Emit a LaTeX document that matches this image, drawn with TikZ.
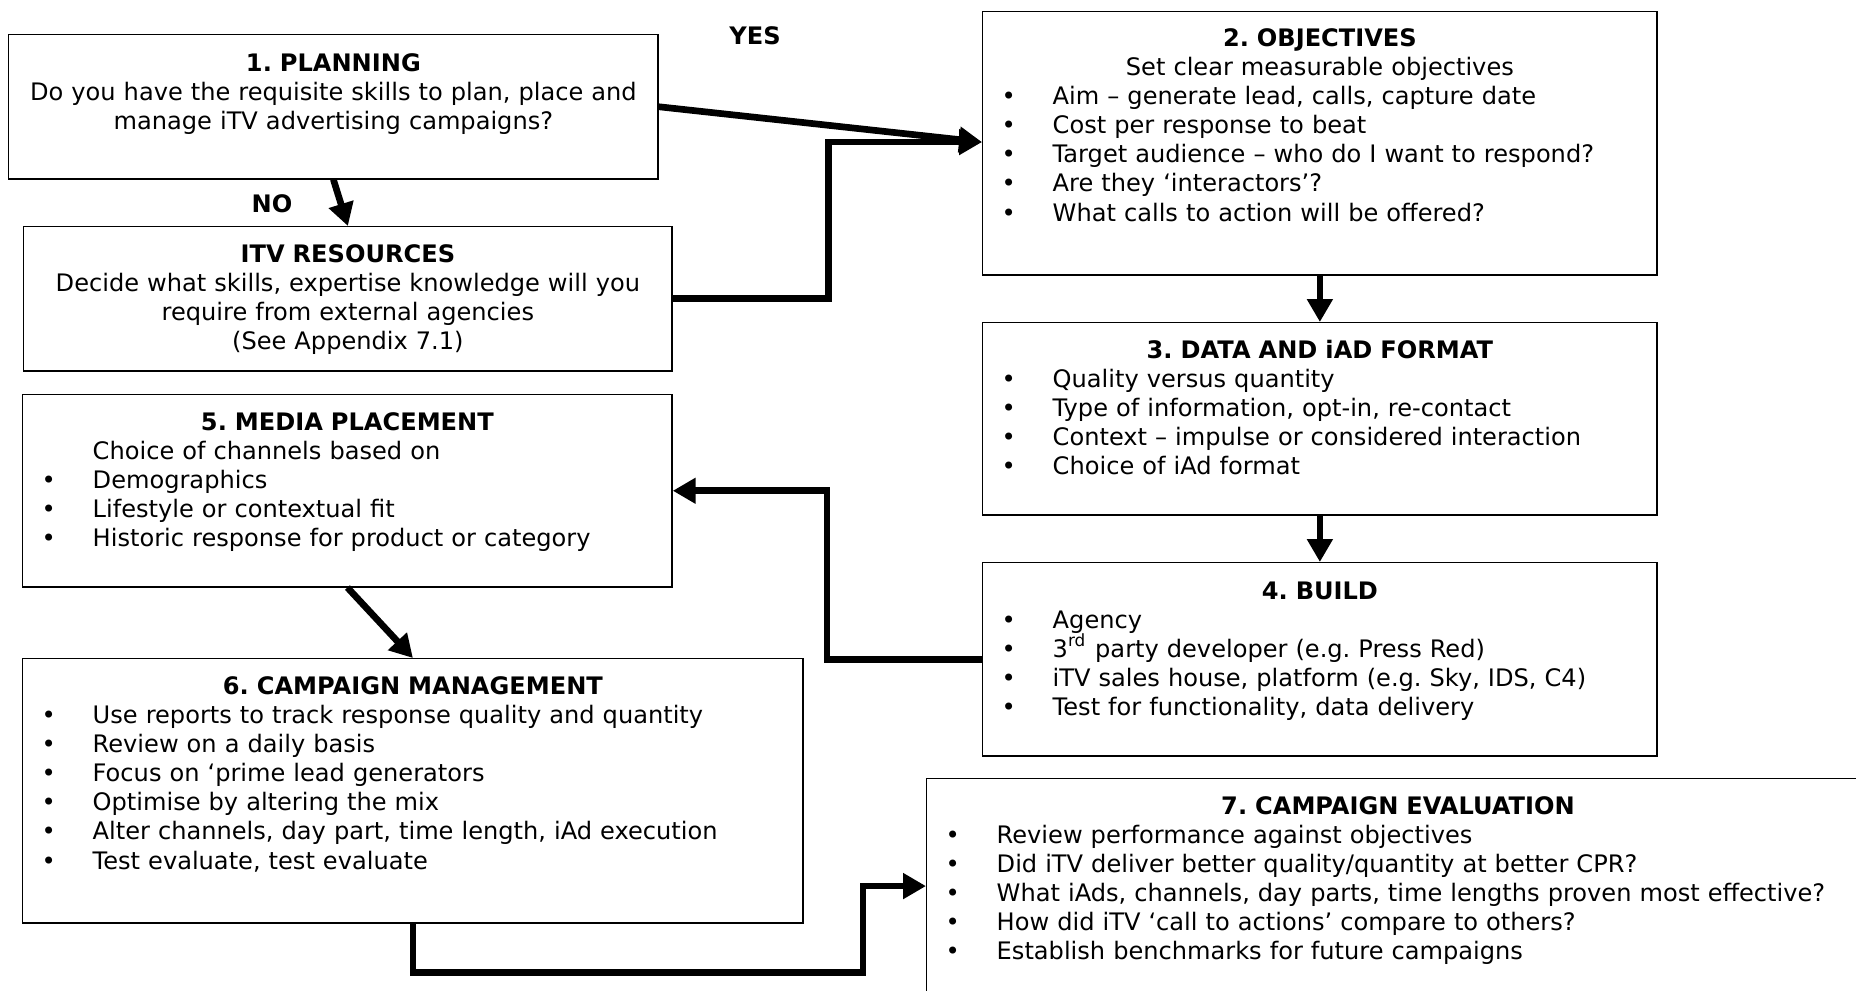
\documentclass[tikz,border=0pt]{standalone}
\usepackage{fontspec}
\setmainfont{DejaVu Sans}
\usetikzlibrary{arrows.meta}
\frenchspacing
\newcommand\boxhead[1]{\makebox[\linewidth]{\bfseries #1}}
\newcommand\boxline[1]{\makebox[\linewidth]{#1}}
\newcommand\itm[1]{\hspace*{0.19cm}\makebox[0.51cm][l]{\textbullet}#1}
\begin{document}
\begin{tikzpicture}[x=0.01cm,y=-0.01cm,
  font=\fontsize{6.85}{8.3}\selectfont,
  box/.style={draw,inner sep=0,anchor=north west},
  txt/.style={inner sep=0,anchor=base west,align=left},
  flow/.style={line width=1.9pt,-{Triangle[length=6.5pt,width=7pt]}}]
  \useasboundingbox (0,0) rectangle (1856,990);
  % boxes
  \node[box,minimum width=6.49cm,minimum height=1.44cm] (plan) at (8,34) {};
  \node[box,minimum width=6.48cm,minimum height=1.44cm] (itv) at (23,226) {};
  \node[box,minimum width=6.74cm,minimum height=2.63cm] (obj) at (982,11) {};
  \node[box,minimum width=6.74cm,minimum height=1.92cm] (data) at (982,322) {};
  \node[box,minimum width=6.74cm,minimum height=1.93cm] (build) at (982,562) {};
  \node[box,minimum width=6.49cm,minimum height=1.92cm] (media) at (22,394) {};
  \node[box,minimum width=7.80cm,minimum height=2.64cm] (cm) at (22,658) {};
  \node[box,minimum width=9.42cm,minimum height=2.50cm] (eval) at (926,778) {};
  % texts
  \node[txt,text width=6.49cm] (planT) at ([yshift=-0.37cm]plan.north west)
    {\boxhead{1. PLANNING}\\
     \boxline{Do you have the requisite skills to plan, place and}\\
     \boxline{manage iTV advertising campaigns?}};
  \node[txt,text width=6.48cm] (itvT) at ([yshift=-0.36cm]itv.north west)
    {\boxhead{ITV RESOURCES}\\
     \boxline{Decide what skills, expertise knowledge will you}\\
     \boxline{require from external agencies}\\
     \boxline{(See Appendix 7.1)}};
  \node[txt,text width=6.74cm] (objT) at ([yshift=-0.35cm]obj.north west)
    {\boxhead{2. OBJECTIVES}\\
     \boxline{Set clear measurable objectives}\\
     \itm{Aim – generate lead, calls, capture date}\\
     \itm{Cost per response to beat}\\
     \itm{Target audience – who do I want to respond?}\\
     \itm{Are they ‘interactors’?}\\
     \itm{What calls to action will be offered?}};
  \node[txt,text width=6.74cm] (dataT) at ([yshift=-0.36cm]data.north west)
    {\boxhead{3. DATA AND iAD FORMAT}\\
     \itm{Quality versus quantity}\\
     \itm{Type of information, opt-in, re-contact}\\
     \itm{Context – impulse or considered interaction}\\
     \itm{Choice of iAd format}};
  \node[txt,text width=6.74cm] (buildT) at ([yshift=-0.37cm]build.north west)
    {\boxhead{4. BUILD}\\
     \itm{Agency}\\
     \itm{3\textsuperscript{rd} party developer (e.g. Press Red)}\\
     \itm{iTV sales house, platform (e.g. Sky, IDS, C4)}\\
     \itm{Test for functionality, data delivery}};
  \node[txt,text width=6.49cm] (mediaT) at ([yshift=-0.36cm]media.north west)
    {\boxhead{5. MEDIA PLACEMENT}\\
     \hspace*{0.70cm}Choice of channels based on\\
     \itm{Demographics}\\
     \itm{Lifestyle or contextual fit}\\
     \itm{Historic response for product or category}};
  \node[txt,text width=7.80cm] (cmT) at ([yshift=-0.36cm]cm.north west)
    {\boxhead{6. CAMPAIGN MANAGEMENT}\\
     \itm{Use reports to track response quality and quantity}\\
     \itm{Review on a daily basis}\\
     \itm{Focus on ‘prime lead generators}\\
     \itm{Optimise by altering the mix}\\
     \itm{Alter channels, day part, time length, iAd execution}\\
     \itm{Test evaluate, test evaluate}};
  \node[txt,text width=9.42cm] (evalT) at ([yshift=-0.36cm]eval.north west)
    {\boxhead{7. CAMPAIGN EVALUATION}\\
     \itm{Review performance against objectives}\\
     \itm{Did iTV deliver better quality/quantity at better CPR?}\\
     \itm{What iAds, channels, day parts, time lengths proven most effective?}\\
     \itm{How did iTV ‘call to actions’ compare to others?}\\
     \itm{Establish benchmarks for future campaigns}};
  \node[font=\fontsize{6.85}{8.3}\selectfont\bfseries] (yes) at (755,36) {YES};
  \node[font=\fontsize{6.85}{8.3}\selectfont\bfseries] (no) at (272,204) {NO};
  % connectors
  \coordinate (objin) at ([yshift=-1.31cm]obj.north west);
  \coordinate (evalin) at ([yshift=-1.08cm]eval.north west);
  \draw[flow] (plan.east) -- (objin);
  \draw[flow] (itv.east) -- ++(156,0) |- (objin);
  \draw[flow] (plan.south) -- (itv.north);
  \draw[flow] (obj.south) -- (data.north);
  \draw[flow] (data.south) -- (build.north);
  \draw[flow] (build.west) -- ++(-155,0) |- (media.east);
  \draw[flow] (media.south) -- (cm.north);
  \draw[flow] (cm.south) -- ++(0,49) -| ([xshift=-0.63cm]evalin) -- (evalin);
\end{tikzpicture}
\end{document}
